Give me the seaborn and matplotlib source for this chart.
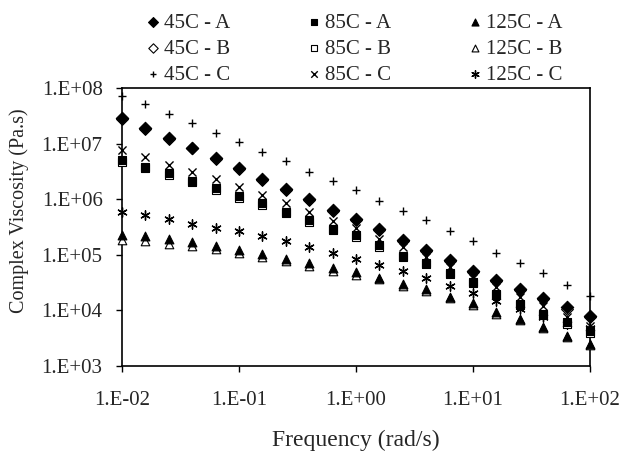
import matplotlib
matplotlib.use("Agg")
import matplotlib.pyplot as plt
import seaborn as sns
import pandas as pd

# frequency sweep (rad/s)
freq = [0.01, 0.0158, 0.0251, 0.0398, 0.0631, 0.1, 0.158, 0.251, 0.398, 0.631,
        1.0, 1.58, 2.51, 3.98, 6.31, 10.0, 15.8, 25.1, 39.8, 63.1, 100.0]

# complex viscosity (Pa.s)
eta_45A = [2.9e7, 1.9e7, 1.25e7, 8.5e6, 5.4e6, 3.7e6, 2.3e6, 1.52e6, 9.9e5, 6.3e5, 4.35e5,
           2.87e5, 1.87e5, 1.23e5, 7.9e4, 5.2e4, 3.5e4, 2.4e4, 1.65e4, 1.13e4, 8.0e3]
eta_45B = [2.8e7, 1.85e7, 1.2e7, 8.2e6, 5.2e6, 3.55e6, 2.2e6, 1.45e6, 9.5e5, 6.1e5, 4.2e5,
           2.75e5, 1.8e5, 1.18e5, 7.6e4, 5.0e4, 3.35e4, 2.3e4, 1.58e4, 1.08e4, 7.7e3]
eta_45C = [7.1e7, 5.2e7, 3.4e7, 2.3e7, 1.58e7, 1.06e7, 7.0e6, 4.9e6, 3.1e6, 2.1e6, 1.46e6,
           9.3e5, 6.1e5, 4.2e5, 2.7e5, 1.74e5, 1.1e5, 7.2e4, 4.7e4, 2.9e4, 1.84e4]
eta_85A = [5.1e6, 3.84e6, 2.91e6, 2.14e6, 1.56e6, 1.13e6, 8.4e5, 5.9e5, 4.17e5, 2.95e5, 2.23e5,
           1.47e5, 9.7e4, 7.1e4, 4.7e4, 3.2e4, 1.97e4, 1.3e4, 8.8e3, 6.1e3, 4.3e3]
eta_85B = [4.7e6, 3.6e6, 2.75e6, 2.0e6, 1.47e6, 1.06e6, 7.9e5, 5.6e5, 3.95e5, 2.8e5, 2.1e5,
           1.4e5, 9.2e4, 6.7e4, 4.5e4, 3.05e4, 1.88e4, 1.24e4, 8.4e3, 5.8e3, 4.0e3]
eta_85C = [7.7e6, 5.8e6, 4.1e6, 3.1e6, 2.27e6, 1.67e6, 1.18e6, 8.4e5, 5.9e5, 4.0e5, 3.03e5,
           1.95e5, 1.38e5, 9.1e4, 6.0e4, 3.9e4, 2.6e4, 1.72e4, 1.21e4, 7.5e3, 5.3e3]
eta_125A = [2.23e5, 2.14e5, 1.89e5, 1.69e5, 1.43e5, 1.23e5, 1.04e5, 8.5e4, 7.1e4, 5.7e4, 4.9e4,
            3.9e4, 3.0e4, 2.4e4, 1.77e4, 1.34e4, 9.2e3, 7.0e3, 5.1e3, 3.5e3, 2.5e3]
eta_125B = [1.82e5, 1.75e5, 1.58e5, 1.45e5, 1.25e5, 1.08e5, 9.2e4, 7.7e4, 6.4e4, 5.2e4, 4.4e4,
            3.6e4, 2.8e4, 2.2e4, 1.65e4, 1.25e4, 8.7e3, 6.6e3, 4.8e3, 3.3e3, 2.4e3]
eta_125C = [5.9e5, 5.3e5, 4.35e5, 3.6e5, 3.03e5, 2.64e5, 2.14e5, 1.74e5, 1.38e5, 1.1e5, 8.5e4,
            6.6e4, 5.2e4, 3.8e4, 2.8e4, 2.06e4, 1.5e4, 1.06e4, 7.5e3, 5.8e3, 4.9e3]

labels = ["45C - A", "45C - B", "45C - C", "85C - A", "85C - B", "85C - C",
          "125C - A", "125C - B", "125C - C"]
series = [eta_45A, eta_45B, eta_45C, eta_85A, eta_85B, eta_85C, eta_125A, eta_125B, eta_125C]

xticks = [0.01, 0.1, 1, 10, 100]
xticklabels = ["1.E-02", "1.E-01", "1.E+00", "1.E+01", "1.E+02"]
yticks = [1e3, 1e4, 1e5, 1e6, 1e7, 1e8]
yticklabels = ["1.E+03", "1.E+04", "1.E+05", "1.E+06", "1.E+07", "1.E+08"]

sns.set_style("ticks")
plt.rcParams['font.family'] = ['Liberation Serif', 'DejaVu Serif']

# marker style for each series: (marker, face, size, edge width)
styles = {
    "45C - A": ("D", "black", 40, 0.8),
    "45C - B": ("D", "white", 36, 0.8),
    "45C - C": ("+", "black", 38, 1.0),
    "85C - A": ("s", "black", 32, 0.8),
    "85C - B": ("s", "white", 30, 0.8),
    "85C - C": ("x", "black", 34, 1.0),
    "125C - A": ("^", "black", 40, 0.8),
    "125C - B": ("^", "white", 38, 0.8),
    "125C - C": ((6, 2, 0), "black", 45, 1.0),
}

df = pd.DataFrame({"freq": freq * len(labels),
                   "eta": [v for s in series for v in s],
                   "sample": [lab for lab in labels for _ in freq]})

fig = plt.figure(figsize=(6.21, 4.53), dpi=100)
ax = fig.add_axes([0.1965, 0.192, 0.7535, 0.6138])

# draw open markers first so the filled ones sit on top
draw_order = ["125C - B", "125C - A", "125C - C", "85C - B", "85C - A", "85C - C",
              "45C - B", "45C - A", "45C - C"]
for lab in draw_order:
    m, fc, sz, lw = styles[lab]
    sub = df[df["sample"] == lab]
    if m in ("+", "x") or isinstance(m, tuple):
        sns.scatterplot(data=sub, x="freq", y="eta", marker=m, s=sz, color="black",
                        linewidth=lw, ax=ax, label=lab, clip_on=False, zorder=3)
    else:
        sns.scatterplot(data=sub, x="freq", y="eta", marker=m, s=sz, facecolor=fc,
                        edgecolor="black", linewidth=lw, ax=ax, label=lab,
                        clip_on=False, zorder=3)

ax.set_xscale("log")
ax.set_yscale("log")
ax.set_xlim(0.01, 100)
ax.set_ylim(1e3, 1e8)
ax.set_xticks(xticks)
ax.set_xticklabels(xticklabels)
ax.set_yticks(yticks)
ax.set_yticklabels(yticklabels)
ax.minorticks_off()
ax.tick_params(axis="both", labelsize=15, length=4, width=1, color="black", pad=10)
ax.tick_params(axis="x", pad=14)
for sp in ax.spines.values():
    sp.set_visible(True)
    sp.set_linewidth(1.2)
    sp.set_color("black")

ax.set_xlabel("Frequency (rad/s)", fontsize=17, labelpad=14)
ax.set_ylabel("Complex Viscosity (Pa.s)", fontsize=14.5)
ax.yaxis.set_label_coords(-0.199, 0.56)

handles, labs = ax.get_legend_handles_labels()
hmap = dict(zip(labs, handles))
ax.legend([hmap[l] for l in labels], labels, ncol=3, frameon=False, fontsize=15,
          loc="lower left", bbox_to_anchor=(0.028, 0.975), columnspacing=3.65,
          handletextpad=0.2, handlelength=0.7, labelspacing=0.3, borderaxespad=0.1,
          markerscale=0.8)

fig.savefig("out.png", dpi=100)
